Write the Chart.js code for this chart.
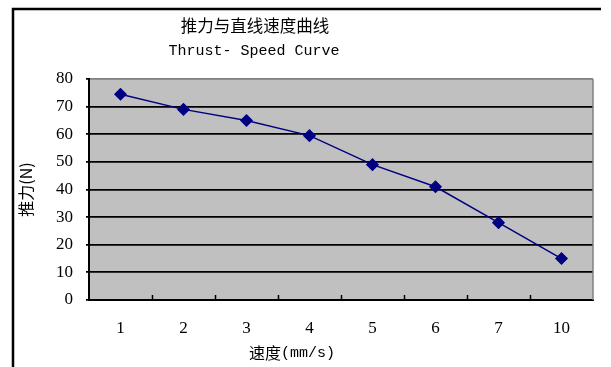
<!DOCTYPE html>
<html>
<head>
<meta charset="utf-8">
<script src="https://cdn.jsdelivr.net/npm/chart.js@4.4.0/dist/chart.umd.min.js"></script>
<style>
html,body{margin:0;padding:0;background:#fff;}
#wrap{width:611px;height:367px;position:relative;}
</style>
</head>
<body>
<div id="wrap"><canvas id="c" width="611" height="367"></canvas></div>
<script>
const categories = ['1','2','3','4','5','6','7','10'];
const thrust = [74.5, 69, 65, 59.5, 49, 41, 28, 15];
const yTicks = [0,10,20,30,40,50,60,70,80];
const titleZh = '推力与直线速度曲线';
const titleEn = 'Thrust- Speed Curve';
const xTitle = '速度(mm/s)';
const yTitle = '推力(N)';

const serif = '"Liberation Serif", "DejaVu Serif", serif';
const cjk = '"Noto Sans CJK SC", sans-serif';

const decor = {
  id: 'decor',
  beforeDraw(chart) {
    const ctx = chart.ctx, a = chart.chartArea;
    ctx.save();
    ctx.fillStyle = '#fff';
    ctx.fillRect(0, 0, chart.width, chart.height);
    ctx.fillStyle = '#c0c0c0';
    ctx.fillRect(a.left, a.top, a.right - a.left, a.bottom - a.top);
    ctx.restore();
  },
  afterDraw(chart) {
    const ctx = chart.ctx, a = chart.chartArea, xs = chart.scales.x;
    ctx.save();
    // outer frame (left + top)
    ctx.strokeStyle = '#000';
    ctx.lineWidth = 2.5;
    ctx.beginPath();
    ctx.moveTo(13, chart.height);
    ctx.lineTo(13, 9);
    ctx.lineTo(601, 9);
    ctx.stroke();
    // right plot border (gray)
    ctx.strokeStyle = '#808080';
    ctx.lineWidth = 1.5;
    ctx.beginPath();
    ctx.moveTo(a.right, a.top);
    ctx.lineTo(a.right, a.bottom);
    ctx.stroke();
    // inner tick marks on x axis between categories
    ctx.strokeStyle = '#000';
    ctx.lineWidth = 1.5;
    ctx.beginPath();
    for (let i = 1; i < categories.length; i++) {
      const x = Math.round((xs.getPixelForValue(i - 1) + xs.getPixelForValue(i)) / 2) + 0.5;
      ctx.moveTo(x, a.bottom);
      ctx.lineTo(x, a.bottom - 5);
    }
    ctx.stroke();
    // titles
    ctx.fillStyle = '#000';
    ctx.textAlign = 'center';
    ctx.textBaseline = 'middle';
    ctx.font = '16.5px ' + cjk;
    ctx.fillText(titleZh, 255, 26);
    ctx.font = '15px "Liberation Mono", monospace';
    ctx.fillText(titleEn, 254, 51);
    // x title
    ctx.font = '16px ' + cjk;
    ctx.fillText('速度', 265, 353);
    ctx.font = '15px "Liberation Mono", monospace';
    ctx.textAlign = 'left';
    ctx.fillText('(mm/s)', 281, 353);
    ctx.restore();
  }
};

new Chart(document.getElementById('c'), {
  type: 'line',
  data: {
    labels: categories,
    datasets: [{
      data: thrust,
      borderColor: '#000080',
      backgroundColor: '#000080',
      borderWidth: 1.5,
      pointStyle: 'rectRot',
      pointRadius: 5.5,
      pointHoverRadius: 5.5,
      pointBackgroundColor: '#000080',
      pointBorderColor: '#000080',
      tension: 0
    }]
  },
  plugins: [decor],
  options: {
    responsive: false,
    animation: false,
    devicePixelRatio: 1,
    layout: { padding: { left: 12, right: 18, top: 79, bottom: 0 } },
    plugins: { legend: { display: false }, title: { display: false }, tooltip: { enabled: false } },
    scales: {
      x: {
        type: 'category',
        offset: true,
        grid: { display: false, drawOnChartArea: false, drawTicks: false },
        border: { display: true, color: '#000', width: 2 },
        ticks: { color: '#000', font: { family: serif, size: 17 }, padding: 18, maxRotation: 0, autoSkip: false },
        afterFit(s) { s.height = 67; }
      },
      y: {
        min: 0, max: 80,
        afterBuildTicks(s) { s.ticks = yTicks.map(v => ({ value: v })); },
        grid: {
          color: ctx => ctx.tick && ctx.tick.value === 80 ? '#808080' : '#000',
          lineWidth: 1.8,
          drawTicks: true, tickLength: 3, tickColor: '#000'
        },
        border: { display: true, color: '#000', width: 2 },
        ticks: { color: '#000', font: { family: serif, size: 17 }, padding: 13 },
        title: { display: true, text: yTitle, color: '#000', font: { family: cjk, size: 16 }, padding: { top: 4, bottom: 0 } },
        afterFit(s) { s.width = 77; }
      }
    }
  }
});
</script>
</body>
</html>
